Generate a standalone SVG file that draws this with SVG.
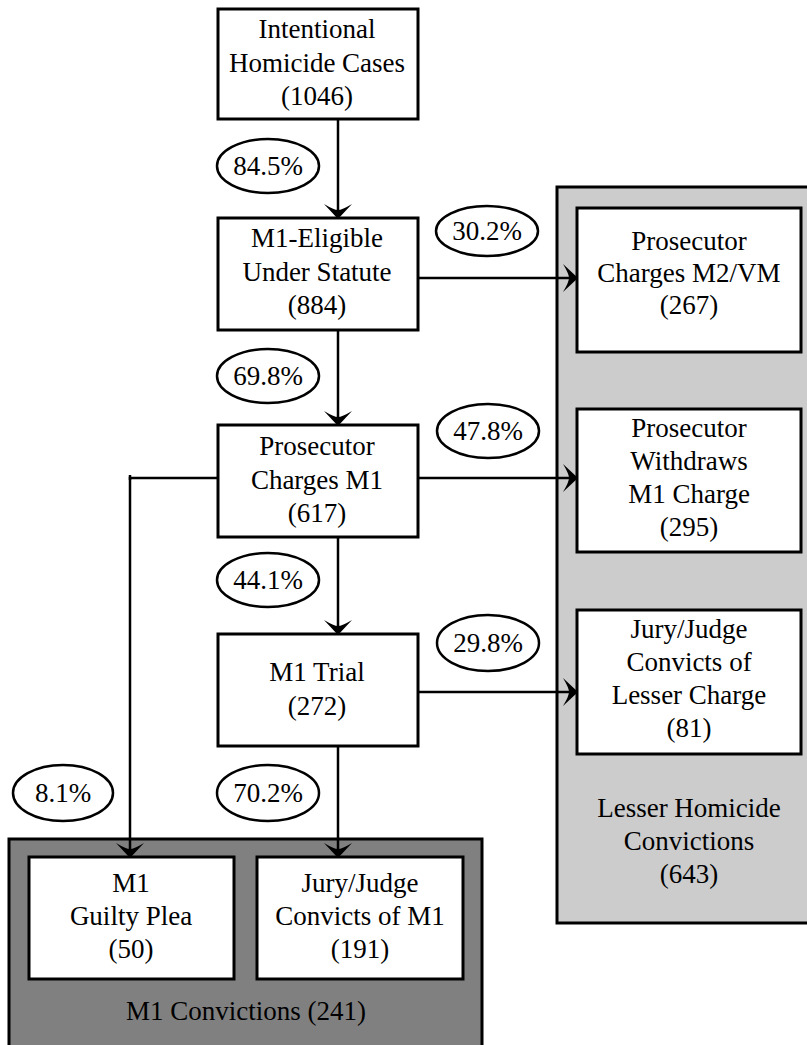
<svg xmlns="http://www.w3.org/2000/svg" width="807" height="1045" viewBox="0 0 807 1045">
<style>
.panel{stroke:#000;stroke-width:3}
.box{fill:#fff;stroke:#000;stroke-width:3}
.ell{fill:#fff;stroke:#000;stroke-width:2.5}
.t{font-family:"Liberation Serif","Times New Roman",serif;font-size:27px;fill:#000;text-anchor:middle}
.c{fill:none;stroke:#000;stroke-width:2.5}
</style>
<defs>
<marker id="arr" markerUnits="userSpaceOnUse" markerWidth="20" markerHeight="32" viewBox="-16 -16 18 32" refX="0" refY="0" orient="auto">
<path d="M0,0 L-15,-14 Q-9,-4 -9,0 Q-9,4 -15,14 Z" fill="#000"/>
</marker>
</defs>
<rect width="807" height="1045" fill="#fff"/>
<g id="lesser-panel">
<rect class="panel" x="557" y="187" width="253" height="736" fill="#cccccc"/>
<text class="t" x="689" y="817">Lesser Homicide</text>
<text class="t" x="689" y="850">Convictions</text>
<text class="t" x="689" y="883">(643)</text>
</g>
<g id="m1-panel">
<rect class="panel" x="9" y="839" width="473" height="215" fill="#808080"/>
<text class="t" x="246" y="1020">M1 Convictions (241)</text>
</g>
<g id="n-cases">
<rect class="box" x="218" y="9" width="200" height="110"/>
<text class="t" x="317" y="38">Intentional</text>
<text class="t" x="317" y="72">Homicide Cases</text>
<text class="t" x="317" y="105">(1046)</text>
</g>
<g id="n-eligible">
<rect class="box" x="218" y="218" width="200" height="112"/>
<text class="t" x="317" y="247">M1-Eligible</text>
<text class="t" x="317" y="281">Under Statute</text>
<text class="t" x="317" y="314">(884)</text>
</g>
<g id="n-charges">
<rect class="box" x="218" y="425" width="200" height="112"/>
<text class="t" x="317" y="455">Prosecutor</text>
<text class="t" x="317" y="489">Charges M1</text>
<text class="t" x="317" y="522">(617)</text>
</g>
<g id="n-trial">
<rect class="box" x="218" y="634" width="200" height="112"/>
<text class="t" x="317" y="681">M1 Trial</text>
<text class="t" x="317" y="715">(272)</text>
</g>
<g id="n-m2vm">
<rect class="box" x="577" y="208" width="224" height="144"/>
<text class="t" x="689" y="250">Prosecutor</text>
<text class="t" x="689" y="282">Charges M2/VM</text>
<text class="t" x="689" y="314">(267)</text>
</g>
<g id="n-withdraws">
<rect class="box" x="577" y="409" width="224" height="143"/>
<text class="t" x="689" y="437">Prosecutor</text>
<text class="t" x="689" y="470">Withdraws</text>
<text class="t" x="689" y="503">M1 Charge</text>
<text class="t" x="689" y="536">(295)</text>
</g>
<g id="n-lesser">
<rect class="box" x="577" y="610" width="224" height="144"/>
<text class="t" x="689" y="638">Jury/Judge</text>
<text class="t" x="689" y="671">Convicts of</text>
<text class="t" x="689" y="704">Lesser Charge</text>
<text class="t" x="689" y="737">(81)</text>
</g>
<g id="n-plea">
<rect class="box" x="29" y="857" width="205" height="122"/>
<text class="t" x="131" y="892">M1</text>
<text class="t" x="131" y="925">Guilty Plea</text>
<text class="t" x="131" y="958">(50)</text>
</g>
<g id="n-jurym1">
<rect class="box" x="257" y="857" width="206" height="122"/>
<text class="t" x="360" y="892">Jury/Judge</text>
<text class="t" x="360" y="925">Convicts of M1</text>
<text class="t" x="360" y="958">(191)</text>
</g>
<g id="connectors">
<line class="c" x1="338" y1="120" x2="338" y2="219" marker-end="url(#arr)"/>
<line class="c" x1="338" y1="331" x2="338" y2="426" marker-end="url(#arr)"/>
<line class="c" x1="338" y1="538" x2="338" y2="635" marker-end="url(#arr)"/>
<line class="c" x1="338" y1="747" x2="338" y2="858" marker-end="url(#arr)"/>
<line class="c" x1="419" y1="278" x2="578" y2="278" marker-end="url(#arr)"/>
<line class="c" x1="419" y1="478" x2="578" y2="478" marker-end="url(#arr)"/>
<line class="c" x1="419" y1="692" x2="578" y2="692" marker-end="url(#arr)"/>
<polyline class="c" points="217,478 130,478 130,858" marker-end="url(#arr)"/>
<line class="c" x1="130" y1="475" x2="130" y2="480"/>
</g>
<g id="labels">
<ellipse class="ell" cx="268" cy="166" rx="51" ry="27"/>
<text class="t" x="268" y="175">84.5%</text>
<ellipse class="ell" cx="487" cy="231" rx="51" ry="25"/>
<text class="t" x="487" y="240">30.2%</text>
<ellipse class="ell" cx="268" cy="376" rx="51" ry="27"/>
<text class="t" x="268" y="385">69.8%</text>
<ellipse class="ell" cx="488" cy="431" rx="51" ry="27"/>
<text class="t" x="488" y="440">47.8%</text>
<ellipse class="ell" cx="268" cy="580" rx="51" ry="27"/>
<text class="t" x="268" y="589">44.1%</text>
<ellipse class="ell" cx="488" cy="643" rx="51" ry="28"/>
<text class="t" x="488" y="652">29.8%</text>
<ellipse class="ell" cx="63" cy="793" rx="50" ry="28"/>
<text class="t" x="63" y="802">8.1%</text>
<ellipse class="ell" cx="268" cy="793" rx="51" ry="28"/>
<text class="t" x="268" y="802">70.2%</text>
</g>
</svg>
